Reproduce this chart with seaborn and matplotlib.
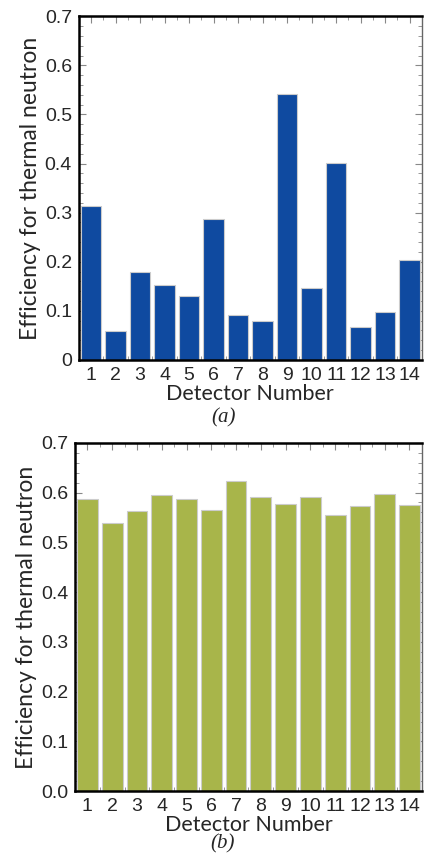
import matplotlib
matplotlib.use("Agg")
import matplotlib.pyplot as plt
import seaborn as sns
import pandas as pd
from matplotlib.ticker import MultipleLocator

sns.set_style("ticks")
plt.rcParams['font.family'] = ['Liberation Sans', 'DejaVu Sans']

# Data
detectors = list(range(1, 15))
eff_a = [0.314, 0.059, 0.180, 0.153, 0.130, 0.287, 0.091, 0.079,
         0.542, 0.147, 0.401, 0.068, 0.098, 0.204]
eff_b = [0.587, 0.539, 0.562, 0.595, 0.586, 0.565, 0.623, 0.590,
         0.577, 0.592, 0.555, 0.573, 0.598, 0.575]
yticks_a = ['0', '0.1', '0.2', '0.3', '0.4', '0.5', '0.6', '0.7']
yticks_b = ['0.0', '0.1', '0.2', '0.3', '0.4', '0.5', '0.6', '0.7']

df_a = pd.DataFrame({'Detector': detectors, 'Efficiency': eff_a})
df_b = pd.DataFrame({'Detector': detectors, 'Efficiency': eff_b})

fig = plt.figure(figsize=(4.24, 8.57), dpi=100)
ax_a = fig.add_axes([0.186, 0.580, 0.809, 0.401])
ax_b = fig.add_axes([0.177, 0.0767, 0.818, 0.4067])

LABEL_FONT = 'Lato'

def style_panel(ax, df, color, ylabels):
    sns.barplot(data=df, x='Detector', y='Efficiency', color=color, saturation=1,
                width=0.84, edgecolor='#cccccc', linewidth=0.8, ax=ax)
    ax.set_xlim(-0.5, 13.5)
    ax.set_ylim(0, 0.7)
    ax.set_yticks([i / 10 for i in range(8)])
    ax.set_yticklabels(ylabels)
    ax.yaxis.set_minor_locator(MultipleLocator(0.02))
    ax.set_xticks(range(len(df)))
    ax.set_xticklabels([str(d) for d in df['Detector']])
    ax.xaxis.set_minor_locator(MultipleLocator(0.5))
    ax.tick_params(axis='both', which='major', direction='in', length=5, width=0.8,
                   color='#888888', labelsize=14, top=True, right=True, pad=5,
                   labelfontfamily='Liberation Sans')
    ax.tick_params(axis='both', which='minor', direction='in', length=3, width=0.6,
                   color='#888888', top=True, right=True)
    for side in ['left', 'top', 'bottom']:
        ax.spines[side].set_linewidth(1.8)
        ax.spines[side].set_color('black')
    ax.spines['right'].set_linewidth(1.0)
    ax.spines['right'].set_color('#666666')
    ax.set_xlabel('Detector Number', fontsize=15.5, family=LABEL_FONT, labelpad=0)
    ax.set_ylabel('Efficiency for thermal neutron', fontsize=16.5, family=LABEL_FONT,
                  labelpad=3)

style_panel(ax_a, df_a, '#0f4aa0', yticks_a)
style_panel(ax_b, df_b, '#a8b54a', yticks_b)

# panel captions
fig.text(0.527, 0.5015, '(a)', ha='center', va='bottom', fontsize=15,
         family='Liberation Serif', style='italic')
fig.text(0.524, 0.004, '(b)', ha='center', va='bottom', fontsize=15,
         family='Liberation Serif', style='italic')

fig.savefig('out.png', dpi=100)
